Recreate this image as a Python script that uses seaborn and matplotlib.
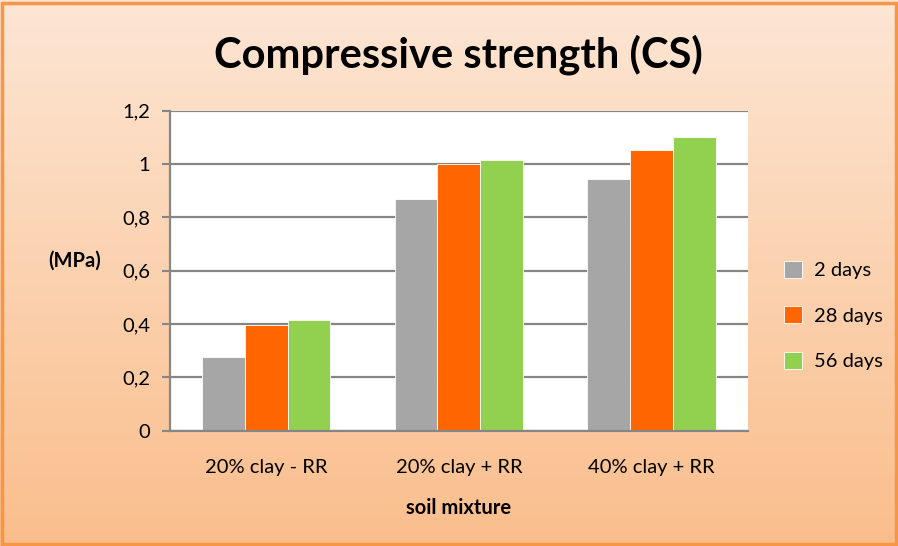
import matplotlib.pyplot as plt
import numpy as np
import pandas as pd
import seaborn as sns

# data
mixtures = ['20% clay - RR', '20% clay + RR', '40% clay + RR']
ages = ['2 days', '28 days', '56 days']
cs_2d = [0.276, 0.868, 0.946]
cs_28d = [0.396, 1.002, 1.052]
cs_56d = [0.416, 1.016, 1.101]
ytick_vals = [0, 0.2, 0.4, 0.6, 0.8, 1.0, 1.2]
ytick_labels = ['0', '0,2', '0,4', '0,6', '0,8', '1', '1,2']
colors = ['#A6A6A6', '#FF6600', '#92D050']

df = pd.DataFrame({
    'mixture': mixtures * 3,
    'age': [a for a in ages for _ in mixtures],
    'cs': cs_2d + cs_28d + cs_56d,
})

sns.set_style('white')
plt.rcParams['font.family'] = ['Lato', 'DejaVu Sans']
plt.rcParams['text.color'] = 'black'
plt.rcParams['xtick.labelcolor'] = 'black'
plt.rcParams['ytick.labelcolor'] = 'black'
plt.rcParams['axes.labelcolor'] = 'black'

fig = plt.figure(figsize=(8.98, 5.46), dpi=100)

# gradient background + orange border
bg = fig.add_axes([0, 0, 1, 1], zorder=0)
grad = np.linspace(0, 1, 256)[:, None]
top = np.array([253, 230, 212]) / 255
bot = np.array([250, 190, 140]) / 255
img = top[None, None, :] * (1 - grad[:, :, None]) + bot[None, None, :] * grad[:, :, None]
bg.imshow(img, aspect='auto', extent=[0, 1, 0, 1])
bg.set_xlim(0, 1)
bg.set_ylim(0, 1)
bg.axis('off')
bg.add_patch(plt.Rectangle((0.002, 0.003), 0.996, 0.992, fill=False,
                           edgecolor='#F79646', linewidth=2.5))

ax = fig.add_axes([0.189, 0.211, 0.644, 0.586], zorder=1)
sns.barplot(data=df, x='mixture', y='cs', hue='age', palette=colors,
            width=0.667, ax=ax, saturation=1, edgecolor='white', linewidth=0.6)

ax.set_ylim(0, 1.2)
ax.set_xlim(-0.5, 2.5)
ax.set_yticks(ytick_vals)
ax.set_yticklabels(ytick_labels, fontsize=14.5)
ax.set_xticks([0, 1, 2])
ax.set_xticklabels(mixtures, fontsize=14.5)
ax.set_xticks([-0.5, 0.5, 1.5, 2.5], minor=True)
ax.tick_params(axis='x', which='major', length=0, pad=20)
ax.tick_params(axis='x', which='minor', length=6, width=1.5, color='#868686', direction='out')
ax.tick_params(axis='y', length=6, width=1.5, color='#868686', direction='out', left=True, pad=8)
ax.yaxis.grid(True, color='#868686', linewidth=1.6)
ax.set_axisbelow(True)
for side in ['top', 'right']:
    ax.spines[side].set_visible(False)
for side in ['left', 'bottom']:
    ax.spines[side].set_color('#868686')
    ax.spines[side].set_linewidth(1.6)

ax.set_xlabel('soil mixture', fontsize=14.5, fontweight='bold', labelpad=16)
ax.set_ylabel('(MPa)', fontsize=14.5, fontweight='bold', rotation=0, labelpad=0)
ax.yaxis.set_label_coords(-0.165, 0.5)

fig.text(0.51, 0.9, 'Compressive strength (CS)', fontsize=30, fontweight='bold',
         ha='center', va='center')

ax.legend(title=None, frameon=False, fontsize=14.5, loc='center left',
          bbox_to_anchor=(1.03, 0.36), labelspacing=1.35, handlelength=0.9,
          handleheight=0.9, handletextpad=0.6)

fig.savefig('out.png', dpi=100)
